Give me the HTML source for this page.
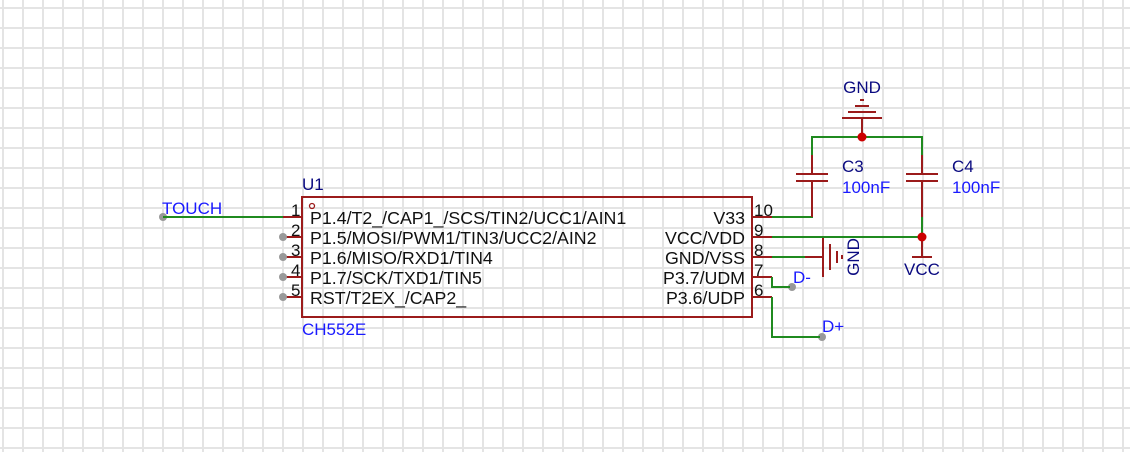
<!DOCTYPE html>
<html><head><meta charset="utf-8"><style>
html,body{margin:0;padding:0;background:#fff;}
svg{display:block;}
text{font-family:"Liberation Sans",sans-serif;}
</style></head><body>
<svg width="1130" height="452" viewBox="0 0 1130 452" xmlns="http://www.w3.org/2000/svg">
<defs>
<pattern id="g" x="2" y="7" width="20" height="20" patternUnits="userSpaceOnUse">
<rect x="0" y="0" width="2" height="20" fill="#e4e4e4"/>
<rect x="0" y="0" width="20" height="2" fill="#e4e4e4"/>
</pattern>
</defs>
<rect width="1130" height="452" fill="url(#g)"/>

<rect x="302" y="197" width="450" height="120" fill="none" stroke="#9b1b1b" stroke-width="2"/>
<circle cx="312" cy="206" r="2.5" fill="none" stroke="#9b1b1b" stroke-width="1.3"/>
<g stroke="#9b1b1b" stroke-width="2">
<line x1="283" y1="217" x2="302" y2="217"/>
<line x1="283" y1="237" x2="302" y2="237"/>
<line x1="283" y1="257" x2="302" y2="257"/>
<line x1="283" y1="277" x2="302" y2="277"/>
<line x1="283" y1="297" x2="302" y2="297"/>
<line x1="752" y1="217" x2="772" y2="217"/>
<line x1="752" y1="237" x2="772" y2="237"/>
<line x1="752" y1="257" x2="772" y2="257"/>
<line x1="752" y1="277" x2="772" y2="277"/>
<line x1="752" y1="297" x2="772" y2="297"/>
</g>
<g fill="#999"><circle cx="283" cy="237" r="4"/><circle cx="283" cy="257" r="4"/><circle cx="283" cy="277" r="4"/><circle cx="283" cy="297" r="4"/><circle cx="163" cy="217" r="4"/><circle cx="792" cy="287" r="4"/><circle cx="822" cy="337" r="4"/></g>

<g stroke="#1f8a1f" stroke-width="2" fill="none">
<line x1="163" y1="217" x2="283" y2="217"/>
<polyline points="772,217 812,217 812,185"/>
<polyline points="812,170 812,137 922,137 922,170"/>
<line x1="922" y1="185" x2="922" y2="237"/>
<line x1="772" y1="237" x2="922" y2="237"/>
<line x1="772" y1="257" x2="805" y2="257"/>
<polyline points="772,277 772,287 790,287"/>
<polyline points="772,297 772,337 820,337"/>
</g>

<g stroke="#9b1b1b" stroke-width="2" fill="none">
<line x1="812" y1="181" x2="812" y2="217"/>
<line x1="812" y1="155" x2="812" y2="174"/>
<line x1="796" y1="174" x2="828" y2="174"/>
<line x1="796" y1="181" x2="828" y2="181"/>
<line x1="922" y1="155" x2="922" y2="174"/>
<line x1="922" y1="181" x2="922" y2="217"/>
<line x1="906" y1="174" x2="938" y2="174"/>
<line x1="906" y1="181" x2="938" y2="181"/>
<line x1="862" y1="137" x2="862" y2="118"/>
<line x1="842" y1="118" x2="882" y2="118"/>
<line x1="848" y1="112" x2="876" y2="112"/>
<line x1="855" y1="106" x2="869" y2="106"/>
<line x1="860" y1="100" x2="864" y2="100"/>
<line x1="922" y1="237" x2="922" y2="257"/>
<line x1="912" y1="257" x2="932" y2="257"/>
<line x1="805" y1="257" x2="823" y2="257"/>
<line x1="823" y1="238" x2="823" y2="277"/>
<line x1="830" y1="244" x2="830" y2="270"/>
<line x1="837" y1="251" x2="837" y2="263"/>
<line x1="842" y1="255" x2="842" y2="259"/>
</g>
<g fill="#cc0000"><circle cx="862" cy="137" r="4.5"/><circle cx="922" cy="237" r="4.5"/></g>

<g font-size="17.8" fill="#111">
<text x="310" y="224">P1.4/T2_/CAP1_/SCS/TIN2/UCC1/AIN1</text>
<text x="310" y="244">P1.5/MOSI/PWM1/TIN3/UCC2/AIN2</text>
<text x="310" y="264">P1.6/MISO/RXD1/TIN4</text>
<text x="310" y="284">P1.7/SCK/TXD1/TIN5</text>
<text x="310" y="304">RST/T2EX_/CAP2_</text>
<g text-anchor="end">
<text x="745" y="224">V33</text>
<text x="745" y="244">VCC/VDD</text>
<text x="745" y="264">GND/VSS</text>
<text x="745" y="284">P3.7/UDM</text>
<text x="745" y="304">P3.6/UDP</text>
</g>
<g font-size="17">
<text x="291" y="216">1</text><text x="291" y="236">2</text><text x="291" y="256">3</text><text x="291" y="276">4</text><text x="291" y="296">5</text>
<text x="754" y="216">10</text><text x="754" y="236">9</text><text x="754" y="256">8</text><text x="754" y="276">7</text><text x="754" y="296">6</text>
</g>
</g>
<g font-size="17" fill="#1a1aff">
<text x="162" y="214">TOUCH</text>
<text x="302" y="335">CH552E</text>
<text x="842" y="193">100nF</text>
<text x="952" y="193">100nF</text>
<text x="793" y="283">D-</text>
<text x="822" y="332">D+</text>
</g>
<g font-size="17" fill="#0a0a80">
<text x="302" y="190">U1</text>
<text x="842" y="172">C3</text>
<text x="952" y="172">C4</text>
<text x="862" y="93" text-anchor="middle">GND</text>
<text x="922" y="275" text-anchor="middle">VCC</text>
<text transform="translate(859,257) rotate(-90)" text-anchor="middle">GND</text>
</g>
</svg>
</body></html>
